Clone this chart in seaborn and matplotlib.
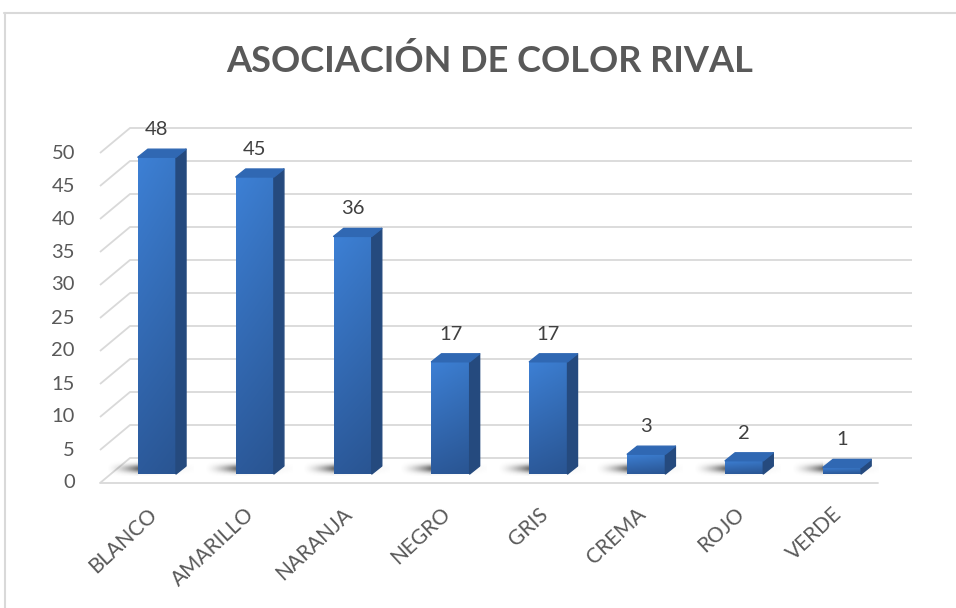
import numpy as np
import matplotlib
matplotlib.use("Agg")
import matplotlib.pyplot as plt
import seaborn as sns
import pandas as pd
from matplotlib.patches import Polygon
from matplotlib.transforms import IdentityTransform
from matplotlib.lines import Line2D

# ---- data ----
categories = ["BLANCO", "AMARILLO", "NARANJA", "NEGRO", "GRIS", "CREMA", "ROJO", "VERDE"]
counts = [48, 45, 36, 17, 17, 3, 2, 1]
y_ticks = [0, 5, 10, 15, 20, 25, 30, 35, 40, 45, 50]
title = "ASOCIACIÓN DE COLOR RIVAL"

sns.set_theme(style="white")
plt.rcParams["font.family"] = ["Lato", "DejaVu Sans"]

W, H = 956, 608
fig = plt.figure(figsize=(W / 100, H / 100), dpi=100)
fig.patch.set_facecolor("white")

# front plane of the bars (pixel placement of the plot area)
x_left, x_right = 108, 891
y_base, y_top = 474, 144
ax = fig.add_axes([x_left / W, (H - y_base) / H,
                   (x_right - x_left) / W, (y_base - y_top) / H])

df = pd.DataFrame({"color": categories, "n": counts})
sns.barplot(data=df, x="color", y="n", color="#3070C0", width=0.39,
            saturation=1, ax=ax, zorder=4)
ax.set_xlim(-0.5, 7.5)
ax.set_ylim(0, 50)
ax.axis("off")

DISP = IdentityTransform()
GRID = "#D9D9D9"
TXT = "#595959"


def px(x, y):
    return ax.transData.transform((x, y))


def to_data(x, y):
    return ax.transData.inverted().transform((x, y))


# depth offsets (pixels) for back wall and floor front edge
BACK = (22, 16)
FRONT = (-8, -9)

# ---- walls: back-wall gridlines, left-wall diagonals, floor edge ----
for v in y_ticks:
    fx, fy = px(-0.5, v)
    rx, _ = px(7.5, v)
    xs = [fx + FRONT[0], fx + BACK[0], rx + BACK[0] - 1]
    ys = [fy + FRONT[1], fy + BACK[1], fy + BACK[1]]
    ax.add_line(Line2D(xs, ys, transform=DISP, color=GRID, lw=1.3,
                       clip_on=False, zorder=1, solid_capstyle="butt"))
    ax.text(fx - 33, fy + FRONT[1], str(v), transform=DISP, ha="right",
            va="center", fontsize=14.5, color=TXT)

fx0, fy0 = px(-0.5, 0)
rx0, _ = px(7.5, 0)
ax.add_line(Line2D([fx0 + FRONT[0], rx0 - 13], [fy0 + FRONT[1]] * 2,
                   transform=DISP, color=GRID, lw=1.3, clip_on=False, zorder=1))

# ---- shading images ----
DX, DY = 10, 8
grad_v = np.linspace(0, 1, 120)[:, None]
top_c = np.array([0x3D, 0x80, 0xD5]) / 255
bot_c = np.array([0x2C, 0x5A, 0x9B]) / 255
grad_h = np.linspace(0, 1, 30)[None, :]
face_img = top_c[None, None, :] * (1 - grad_v[..., None]) + bot_c[None, None, :] * grad_v[..., None]
face_img = np.clip(face_img * (1.0 - 0.06 * grad_h[..., None]), 0, 1)

# floor shadow: dark near the bar's left foot, fading to the left
SH_L, SH_R, SH_B, SH_T = 32, 16, -2, 13
sw = SH_L + 40 + SH_R
sx = np.arange(sw)
prof_x = np.where(sx < SH_L, (sx / SH_L) ** 1.6, 0.45 * np.exp(-((sx - SH_L) / 30.0) ** 2))
sy = np.arange(SH_T - SH_B)[::-1] + SH_B
prof_y = np.exp(-((sy - 4.5) / 3.8) ** 2)
shadow = np.zeros((len(sy), sw, 4))
shadow[..., :3] = 0.2
shadow[..., 3] = 0.75 * prof_y[:, None] * prof_x[None, :]

# ---- 3D bars built from the seaborn bar patches ----
for p, val, lab in zip(ax.patches, counts, categories):
    bx0 = p.get_x()
    bx1 = bx0 + p.get_width()
    x0, y0 = px(bx0, 0)
    x1, y1 = px(bx1, val)
    xc = (x0 + x1) / 2

    # floor shadow
    dl, db = to_data(x0 - SH_L, y0 + SH_B)
    dr, dt = to_data(x0 - SH_L + sw, y0 + SH_T)
    ax.imshow(shadow, extent=(dl, dr, db, dt), aspect="auto", origin="upper",
              zorder=2, clip_on=False, interpolation="bilinear")

    # front face with vertical shading
    p.set_facecolor("none")
    p.set_edgecolor("none")
    ax.imshow(face_img, extent=(bx0, bx1, 0, val), aspect="auto", origin="upper",
              zorder=4, clip_path=p, clip_on=True, interpolation="bilinear")

    # side face
    ax.add_patch(Polygon([(x1, y0), (x1 + DX, y0 + DY), (x1 + DX, y1 + DY), (x1, y1)],
                         closed=True, transform=DISP, facecolor="#254A7E",
                         edgecolor="#254A7E", lw=1.0, joinstyle="round",
                         zorder=4, clip_on=False))
    # top face
    ax.add_patch(Polygon([(x0, y1), (x1, y1), (x1 + DX, y1 + DY), (x0 + DX, y1 + DY)],
                         closed=True, transform=DISP, facecolor="#3068B3",
                         edgecolor="#3068B3", lw=1.0, joinstyle="round",
                         zorder=4, clip_on=False))

    # value label
    ax.text(xc, y1 + 19, str(val), transform=DISP, ha="center", va="bottom",
            fontsize=14.5, color="#404040", zorder=6)

    # category label
    ax.text(xc - 10, y0 - 30, lab, transform=DISP, ha="right", va="top",
            rotation=43, rotation_mode="anchor", fontsize=15, color=TXT)

ax.set_xlim(-0.5, 7.5)
ax.set_ylim(0, 50)

# chart frame
fig.add_artist(Line2D([4 / W, 1], [1 - 13 / H] * 2, transform=fig.transFigure,
                      color=GRID, lw=1.5))
fig.add_artist(Line2D([5 / W] * 2, [0, 1 - 13 / H], transform=fig.transFigure,
                      color=GRID, lw=1.5))

fig.text(490 / W, 1 - 61 / H, title, ha="center", va="center", fontsize=26,
         fontweight="bold", color=TXT)

fig.savefig("out.png", dpi=100)
